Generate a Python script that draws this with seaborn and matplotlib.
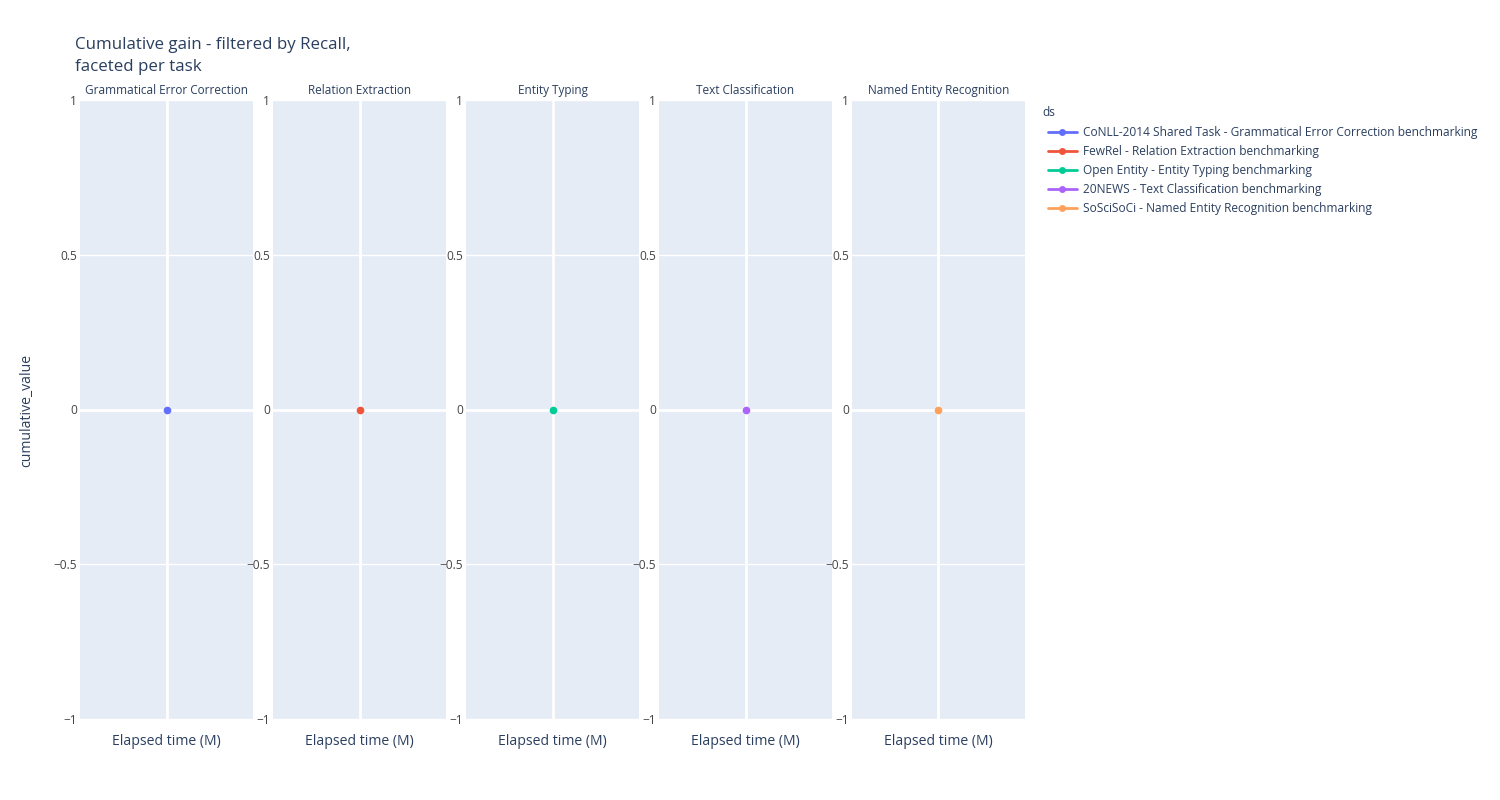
import matplotlib
matplotlib.use("Agg")
import matplotlib.pyplot as plt
from matplotlib.lines import Line2D
import seaborn as sns
import pandas as pd

tasks = ["Grammatical Error Correction", "Relation Extraction", "Entity Typing",
         "Text Classification", "Named Entity Recognition"]
datasets = ["CoNLL-2014 Shared Task - Grammatical Error Correction benchmarking",
            "FewRel - Relation Extraction benchmarking",
            "Open Entity - Entity Typing benchmarking",
            "20NEWS - Text Classification benchmarking",
            "SoSciSoCi - Named Entity Recognition benchmarking"]
elapsed = [0, 0, 0, 0, 0]
cumulative = [0, 0, 0, 0, 0]
y_ticks = [-1, -0.5, 0, 0.5, 1]
y_labels = ["\u22121", "\u22120.5", "0", "0.5", "1"]
colors = ["#636efa", "#EF553B", "#00cc96", "#ab63fa", "#FFA15A"]

df = pd.DataFrame({"task": tasks, "ds": datasets,
                   "elapsed": elapsed, "cumulative_value": cumulative})

sns.set_theme(style="darkgrid")
plt.rcParams['font.family'] = ['Open Sans', 'DejaVu Sans']
TXT = "#2a3f5f"

fig = plt.figure(figsize=(15, 8), dpi=100)
W, H = 1500, 800
left0, pw, step = 80, 173, 193
top, bottom = 100, 719

for i, task in enumerate(tasks):
    ax = fig.add_axes([(left0 + i * step) / W, (H - bottom) / H, pw / W, (bottom - top) / H])
    ax.set_facecolor("#E5ECF6")
    sub = df[df["task"] == task]
    sns.lineplot(data=sub, x="elapsed", y="cumulative_value", ax=ax, color=colors[i],
                 marker="o", markersize=5.5, markeredgewidth=0, linewidth=2, legend=False)
    ax.set_xlim(-1, 1)
    ax.set_ylim(-1, 1)
    ax.set_xticks([0])
    ax.set_xticklabels([])
    ax.set_yticks(y_ticks)
    ax.set_yticklabels(y_labels, fontsize=8.6, color="#444444")
    ax.tick_params(axis="both", length=0, pad=2)
    ax.grid(True, color="white", linewidth=1)
    ax.xaxis.grid(True, color="white", linewidth=2)
    for s in ax.spines.values():
        s.set_visible(False)
    ax.set_xlabel("Elapsed time (M)", fontsize=10.1, color=TXT, labelpad=9)
    ax.set_ylabel("")
    ax.set_title(task, fontsize=8.5, color=TXT, pad=4)
    ax.axhline(0, color="white", linewidth=2, zorder=0.5)
    for l in ax.lines:
        if l.get_marker() == "o":
            l.set_zorder(3)

fig.text(27 / W, 1 - 410 / H, "cumulative_value", rotation=90, fontsize=10.1,
         color=TXT, ha="center", va="center")
fig.text(75 / W, 1 - 56 / H, "Cumulative gain - filtered by Recall,\nfaceted per task",
         fontsize=12.2, color=TXT, ha="left", va="center", linespacing=1.5)

handles = [Line2D([0], [0], color=c, marker="o", markersize=5, markeredgewidth=0, linewidth=2)
           for c in colors]
leg = fig.legend(handles, datasets, loc="upper left", bbox_to_anchor=(1048 / W, 1 - 126 / H),
                 frameon=False, fontsize=8.6, handlelength=2.4, handletextpad=0.55,
                 labelspacing=0.5, borderaxespad=0, borderpad=0)
for t in leg.get_texts():
    t.set_color(TXT)
fig.text(1042 / W, 1 - 113 / H, "ds", fontsize=8.6, color=TXT, ha="left", va="center")

fig.savefig("out.png", dpi=100, facecolor="white")
